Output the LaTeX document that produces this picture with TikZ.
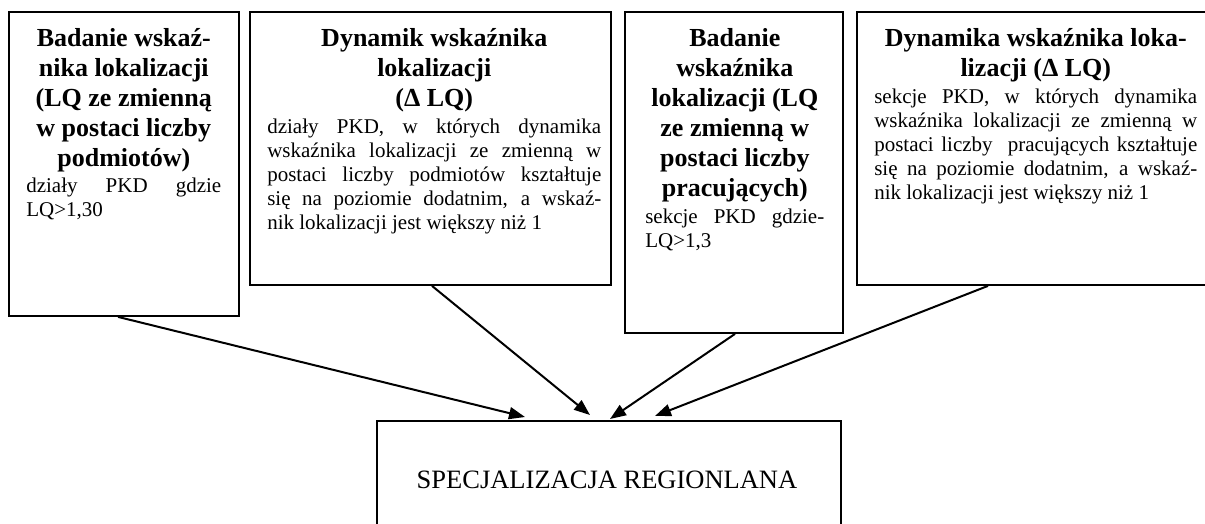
\documentclass[tikz,border=0pt]{standalone}
\usepackage{fontspec}
\setmainfont{Liberation Serif}
\usetikzlibrary{arrows.meta}

\begin{document}
\begin{tikzpicture}[x=1pt,y=-1pt,
    frame/.style={draw, line width=1.8pt, inner sep=0pt},
    txt/.style={anchor=north west, inner sep=0pt, align=justify, font=\fontsize{21}{24}\selectfont},
    arr/.style={-{Triangle[length=16pt,width=12pt]}, line width=2pt}]
    \useasboundingbox (0,0) rectangle (1205,524);

    % ramki
    \node[frame, minimum width=230pt, minimum height=304pt] (lqa) at (124,164) {};
    \node[frame, minimum width=361pt, minimum height=273pt] (dla) at (430.5,148.5) {};
    \node[frame, minimum width=218pt, minimum height=321pt] (lqb) at (734,172.5) {};
    \node[frame, minimum width=363pt, minimum height=273pt] (dlb) at (1038.5,148.5) {};
    \node[frame, minimum width=464pt, minimum height=130pt] (spec) at (609,486) {};

    % teksty
    \node[txt, text width=195pt] (lqatxt) at ([shift={(18pt,-11pt)}]lqa.north west)
        {{\centering\fontsize{26}{30}\selectfont\bfseries\rule{0pt}{24pt}Badanie wskaź-\\nika lokalizacji\\(LQ ze zmienną\\w postaci liczby\\podmiotów)\par}\vspace{2pt}
        działy PKD gdzie\linebreak LQ>1,30};
    \node[txt, text width=334pt] (dlatxt) at ([shift={(18pt,-11pt)}]dla.north west)
        {{\centering\fontsize{26}{30}\selectfont\bfseries\rule{0pt}{24pt}Dynamik wskaźnika\\lokalizacji\\(Δ LQ)\par}\vspace{3pt}
        działy PKD, w których dynamika\linebreak wskaźnika lokalizacji ze zmienną w\linebreak postaci liczby podmiotów kształtuje\linebreak się na poziomie dodatnim, a wskaź-\linebreak nik lokalizacji jest większy niż 1};
    \node[txt, text width=179pt] (lqbtxt) at ([shift={(21pt,-11pt)}]lqb.north west)
        {{\centering\fontsize{26}{30}\selectfont\bfseries\rule{0pt}{24pt}Badanie\\wskaźnika\\lokalizacji (LQ\\ze zmienną w\\postaci liczby\\pracujących)\par}\vspace{3pt}
        sekcje PKD gdzie-\linebreak LQ>1,3};
    \node[txt, text width=323pt] (dlbtxt) at ([shift={(18pt,-11pt)}]dlb.north west)
        {{\centering\fontsize{26}{30}\selectfont\bfseries\rule{0pt}{24pt}Dynamika wskaźnika loka-\\lizacji (Δ LQ)\par}\vspace{3pt}
        sekcje PKD, w których dynamika\linebreak wskaźnika lokalizacji ze zmienną w\linebreak postaci liczby\ \ pracujących kształtuje\linebreak się na poziomie dodatnim, a wskaź-\linebreak nik lokalizacji jest większy niż 1};
    \node[inner sep=0pt, font=\fontsize{26.5}{30}\selectfont] (spectxt) at (607,480) {SPECJALIZACJA REGIONLANA};

    % strzalki
    \coordinate (e1) at (525,417);
    \coordinate (e2) at (590,415);
    \coordinate (e3) at (610,419);
    \coordinate (e4) at (655,416);
    \draw[arr] ([xshift=-6pt]lqa.south) -- (e1);
    \draw[arr] ([xshift=1.5pt]dla.south) -- (e2);
    \draw[arr] ([xshift=1pt]lqb.south) -- (e3);
    \draw[arr] ([xshift=-50.5pt]dlb.south) -- (e4);
\end{tikzpicture}
\end{document}
